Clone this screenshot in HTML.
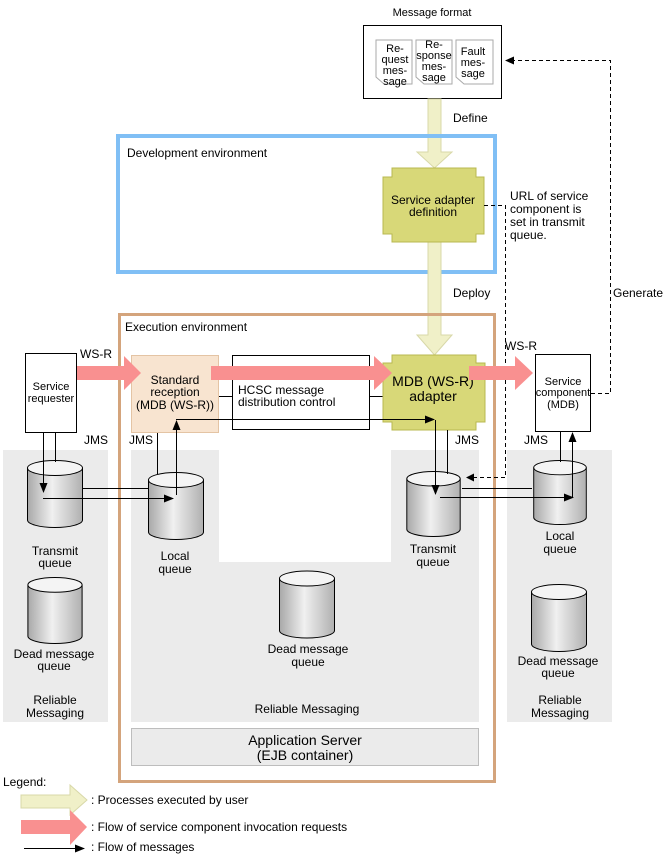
<!DOCTYPE html>
<html><head><meta charset="utf-8"><style>
html,body{margin:0;padding:0;background:#fff;}
svg{display:block;font-family:"Liberation Sans",Arial,sans-serif;}
text{font-size:12px;fill:#000;}
</style></head><body>
<svg width="668" height="857" viewBox="0 0 668 857" xmlns="http://www.w3.org/2000/svg">
<defs>
<linearGradient id="cg" x1="0" x2="1" y1="0" y2="0">
<stop offset="0" stop-color="#a8a8a8"/><stop offset="0.45" stop-color="#f0f0f0"/><stop offset="1" stop-color="#b0b0b0"/>
</linearGradient>
<marker id="ah" markerWidth="10" markerHeight="8" refX="9" refY="4" orient="auto" markerUnits="userSpaceOnUse">
<path d="M0,0 L10,4 L0,8 z" fill="#000"/></marker>
<symbol id="cyl" viewBox="0 0 56 68" overflow="visible">
<path d="M0.5,8 L0.5,60 A27.5,7.5 0 0 0 55.5,60 L55.5,8" fill="url(#cg)" stroke="#000"/>
<ellipse cx="28" cy="8" rx="27.5" ry="7.5" fill="#f4f4f4" stroke="#000"/>
</symbol>
</defs>

<!-- gray regions -->
<rect x="3" y="450" width="105" height="272" fill="#ebebeb"/>
<path d="M131,450 H219 V562 H391 V450 H479 V722 H131 Z" fill="#ebebeb"/>
<rect x="507" y="450" width="105" height="272" fill="#ebebeb"/>

<!-- Message format -->
<text x="432" y="16" text-anchor="middle" style="font-size:11px">Message format</text>
<rect x="363.5" y="25.5" width="138" height="73" fill="#fff" stroke="#000"/>
<g fill="#fff" stroke="#aaa">
<path d="M376,40 H412 V84 H384 L376,77 Z"/>
<path d="M416,40 H452 V84 H424 L416,77 Z"/>
<path d="M456,40 H493 V84 H464 L456,77 Z"/>
</g>
<g style="font-size:11px" text-anchor="middle">
<text x="395" y="52" style="font-size:11px">Re-</text><text x="395" y="63" style="font-size:11px">quest</text><text x="395" y="74" style="font-size:11px">mes-</text><text x="395" y="85" style="font-size:11px">sage</text>
<text x="434" y="48" style="font-size:11px">Re-</text><text x="434" y="59" style="font-size:11px">sponse</text><text x="434" y="70" style="font-size:11px">mes-</text><text x="434" y="81" style="font-size:11px">sage</text>
<text x="473" y="55" style="font-size:11px">Fault</text><text x="473" y="66" style="font-size:11px">mes-</text><text x="473" y="77" style="font-size:11px">sage</text>
</g>

<!-- Define arrow -->
<path d="M428,99 H441 V152 H452 L434.5,168 L417,152 H428 Z" fill="#f0f0c8" stroke="#d8d8a8"/>
<text x="453" y="122">Define</text>

<!-- Dev environment -->
<rect x="118" y="136" width="377" height="136" fill="none" stroke="#80bff5" stroke-width="4"/>
<text x="127" y="157">Development environment</text>

<!-- Deploy arrow -->
<path d="M428,242 H441 V335 H452 L434.5,355 L417,335 H428 Z" fill="#f0f0c8" stroke="#d8d8a8"/>
<text x="453" y="297">Deploy</text>

<!-- Service adapter definition -->
<path d="M392,168 H476 V177 H484 V234 H476 V242 H392 V234 H383 V177 H392 Z" fill="#d8d878" stroke="#b8b850"/>
<text x="433" y="204" text-anchor="middle">Service adapter</text>
<text x="433" y="216" text-anchor="middle">definition</text>
<text x="510" y="200">URL of service</text>
<text x="510" y="213">component is</text>
<text x="510" y="226">set in transmit</text>
<text x="510" y="239">queue.</text>

<!-- Execution environment -->
<rect x="119.5" y="314.5" width="375" height="467" fill="none" stroke="#d4a47c" stroke-width="3"/>
<text x="125" y="331">Execution environment</text>

<!-- dashed lines -->
<path d="M484,205.5 H505.5 V477.5 H470" fill="none" stroke="#000" stroke-dasharray="4,3"/>
<path d="M466,477.5 l8,-4 v8 z" fill="#000"/>
<path d="M591,393.5 H610.5 V60.5 H512" fill="none" stroke="#000" stroke-dasharray="4,3"/>
<path d="M505,60.5 l9,-4 v8 z" fill="#000"/>
<text x="613" y="297">Generate</text>

<!-- Service requester -->
<rect x="25.5" y="353.5" width="51" height="79" fill="#fff" stroke="#000"/>
<text x="51" y="390" text-anchor="middle" style="font-size:11px">Service</text>
<text x="51" y="402" text-anchor="middle" style="font-size:11px">requester</text>
<text x="80" y="358">WS-R</text>

<!-- Standard reception -->
<rect x="131.5" y="355.5" width="87" height="77" fill="#f8e4d0" stroke="#e4c4a4"/>
<text x="175" y="384" text-anchor="middle">Standard</text>
<text x="175" y="396" text-anchor="middle">reception</text>
<text x="175" y="409" text-anchor="middle">(MDB (WS-R))</text>

<!-- HCSC -->
<rect x="232.5" y="355.5" width="137" height="74" fill="#fff" stroke="#000"/>
<text x="238" y="394">HCSC message</text>
<text x="238" y="406">distribution control</text>
<path d="M219,396.5 H232 M370,396.5 H383" stroke="#000"/>

<!-- MDB adapter -->
<path d="M392,355 H476 V363 H485 V422 H476 V430 H392 V422 H383 V363 H392 Z" fill="#d8d878" stroke="#b8b850"/>
<text x="433" y="386" text-anchor="middle" style="font-size:14px">MDB (WS-R)</text>
<text x="433" y="401" text-anchor="middle" style="font-size:14px">adapter</text>

<!-- Service component -->
<rect x="535.5" y="354.5" width="55" height="77" fill="#fff" stroke="#000"/>
<text x="563" y="385" text-anchor="middle" style="font-size:11px">Service</text>
<text x="563" y="396" text-anchor="middle" style="font-size:11px">component</text>
<text x="563" y="408" text-anchor="middle" style="font-size:11px">(MDB)</text>
<text x="505" y="350">WS-R</text>

<!-- pink arrows -->
<g fill="#f99090">
<path d="M77,366 H124 V356 L141,373 L124,390 V380 H77 Z"/>
<path d="M211,366 H374 V356 L392,373 L374,390 V380 H211 Z"/>
<path d="M469,366 H515 V356 L533,373 L515,390 V380 H469 Z"/>
</g>

<!-- JMS labels -->
<text x="84" y="444">JMS</text>
<text x="129" y="444">JMS</text>
<text x="455" y="444">JMS</text>
<text x="524" y="444">JMS</text>

<!-- cylinders -->
<use href="#cyl" x="27" y="460" width="56" height="68"/>
<use href="#cyl" x="148" y="472" width="56" height="68"/>
<use href="#cyl" x="405" y="471" width="57" height="66"/>
<use href="#cyl" x="532" y="460" width="56" height="65"/>
<use href="#cyl" x="27" y="577" width="56" height="67"/>
<use href="#cyl" x="279" y="570" width="56" height="69"/>
<use href="#cyl" x="531" y="584" width="56" height="68"/>

<!-- message flow lines -->
<g stroke="#000" fill="none">
<path d="M55.5,433 V462"/>
<path d="M43.5,433 V492" marker-end="url(#ah)"/>
<path d="M83,488.5 H148"/>
<path d="M43,498.5 H173" marker-end="url(#ah)"/>
<path d="M157.5,433 V474"/>
<path d="M176.5,495 V421" marker-end="url(#ah)"/>
<path d="M176,419.5 H434" marker-end="url(#ah)"/>
<path d="M435.5,420 V494" marker-end="url(#ah)"/>
<path d="M447.5,430 V474"/>
<path d="M462,488.5 H532"/>
<path d="M440,497.5 H573" marker-end="url(#ah)"/>
<path d="M572.5,497 V433" marker-end="url(#ah)"/>
<path d="M560.5,432 V462"/>
</g>

<!-- queue labels -->
<g text-anchor="middle">
<text x="55" y="555">Transmit</text><text x="55" y="567">queue</text>
<text x="175" y="560">Local</text><text x="175" y="573">queue</text>
<text x="433" y="553">Transmit</text><text x="433" y="566">queue</text>
<text x="560" y="540">Local</text><text x="560" y="553">queue</text>
<text x="54" y="658">Dead message</text><text x="54" y="670">queue</text>
<text x="308" y="653">Dead message</text><text x="308" y="666">queue</text>
<text x="558" y="665">Dead message</text><text x="558" y="677">queue</text>
<text x="55" y="704">Reliable</text><text x="55" y="717">Messaging</text>
<text x="307" y="713">Reliable Messaging</text>
<text x="560" y="704">Reliable</text><text x="560" y="717">Messaging</text>
</g>

<!-- App server -->
<rect x="131.5" y="728.5" width="347" height="37" fill="#ebebeb" stroke="#bdbdbd"/>
<text x="305" y="745" text-anchor="middle" style="font-size:14px">Application Server</text>
<text x="305" y="760" text-anchor="middle" style="font-size:14px">(EJB container)</text>

<!-- Legend -->
<text x="3" y="786">Legend:</text>
<path d="M21,795 H70 V785 L87,800 L70,815 V808 H21 Z" fill="#f0f0c8" stroke="#d8d8a8"/>
<text x="91" y="804">: Processes executed by user</text>
<path d="M21,820 H70 V810 L87,827 L70,845 V834 H21 Z" fill="#f99090"/>
<text x="91" y="831">: Flow of service component invocation requests</text>
<path d="M24,848.5 H84" stroke="#000" marker-end="url(#ah)"/>
<text x="91" y="851">: Flow of messages</text>
</svg>
</body></html>
